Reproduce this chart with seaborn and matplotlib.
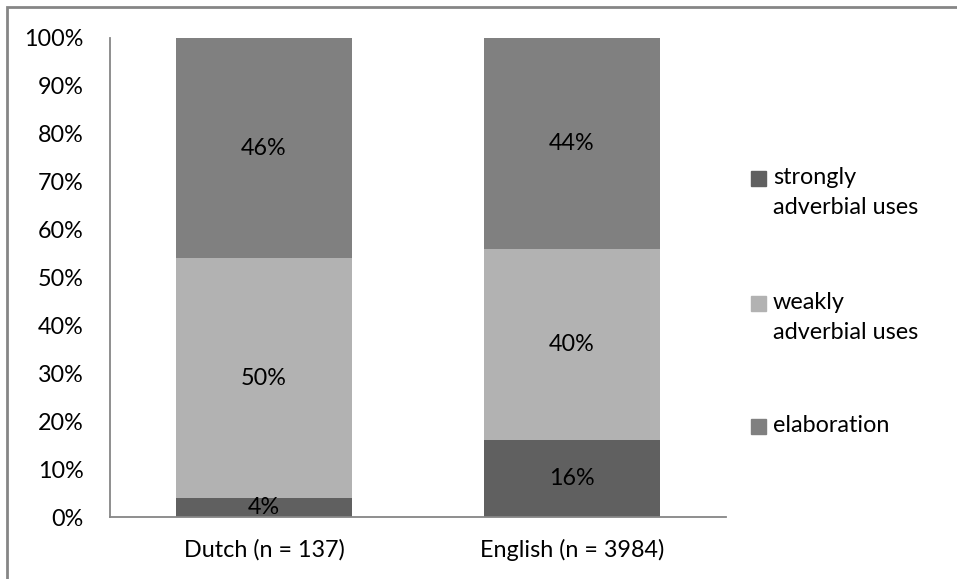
import numpy as np
import pandas as pd
import seaborn as sns
import matplotlib.pyplot as plt
from matplotlib.patches import Rectangle

# Data (percent of uses per language)
languages = ["Dutch (n = 137)", "English (n = 3984)"]
categories = ["strongly\nadverbial uses", "weakly\nadverbial uses", "elaboration"]
strongly = [4, 16]
weakly = [50, 40]
elaboration = [46, 44]
colors = ["#606060", "#b2b2b2", "#808080"]

sns.set_style("white")
plt.rcParams['font.family'] = ['Lato', 'DejaVu Sans']
FS = 16.8

W, H = 957, 579
fig = plt.figure(figsize=(W / 100, H / 100), dpi=100)
ax = fig.add_axes([110 / W, 1 - 517 / H, (726 - 110) / W, (517 - 38) / H])

df = pd.DataFrame({"language": languages, "strongly": strongly,
                   "weakly": weakly, "elaboration": elaboration})
series = ["strongly", "weakly", "elaboration"]
cum = df[series].cumsum(axis=1)

# stacked bars: draw cumulative totals from the top segment down
for name, col in reversed(list(zip(series, colors))):
    sns.barplot(x=df["language"], y=cum[name], color=col, width=0.57,
                saturation=1, linewidth=0, ax=ax)

# segment labels
for i in range(len(df)):
    prev = 0
    for name in series:
        v = df.loc[i, name]
        ax.text(i, prev + v / 2, f"{v}%", ha="center", va="center",
                fontsize=FS, color="black")
        prev += v

ax.set_xlim(-0.5, 1.5)
ax.set_ylim(0, 100)
ax.set_yticks(np.arange(0, 101, 10))
ax.set_yticklabels([f"{t}%" for t in range(0, 101, 10)])
ax.set_xlabel("")
ax.set_ylabel("")
ax.tick_params(axis="y", length=0, pad=19, labelsize=FS, labelcolor="black")
ax.tick_params(axis="x", length=0, pad=16, labelsize=FS, labelcolor="black")
for s in ["top", "right"]:
    ax.spines[s].set_visible(False)
for s in ["left", "bottom"]:
    ax.spines[s].set_color("#868686")
    ax.spines[s].set_linewidth(1.3)

# legend, drawn Excel-style with the swatch on the first text line
leg_y = [178, 303, 426]
for lab, col, y in zip(categories, colors, leg_y):
    fig.patches.append(Rectangle((751 / W, 1 - (y + 7.5) / H), 15 / W, 15 / H,
                                 transform=fig.transFigure, color=col))
    fig.text(773 / W, 1 - (y - 11) / H, lab, ha="left", va="top",
             fontsize=FS, linespacing=1.55, color="black")

# outer chart border
fig.patches.append(Rectangle((7 / W, -0.05), 1.1, 1 - 7 / H + 0.05,
                             transform=fig.transFigure, fill=False,
                             edgecolor="#868686", linewidth=2))

fig.savefig("out.png", dpi=100)
